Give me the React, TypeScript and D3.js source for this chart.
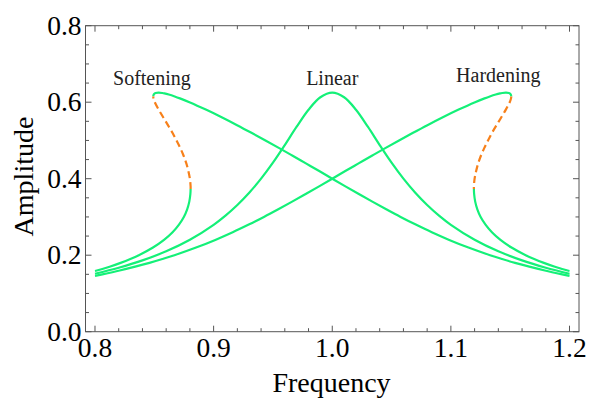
import React from "react";
import * as d3 from "d3";

// Frequency-response curves: [frequency, amplitude] pairs.
const linearCurve: [number, number][] = [
  [0.8, 0.1516], [0.82, 0.1673], [0.84, 0.1864], [0.86, 0.2102], [0.88, 0.2404],
  [0.9, 0.2795], [0.91, 0.3035], [0.92, 0.3313], [0.93, 0.3633], [0.94, 0.4001],
  [0.95, 0.4419], [0.96, 0.488], [0.97, 0.5359], [0.98, 0.5803], [0.99, 0.6129],
  [1.0, 0.625],
  [1.01, 0.6129], [1.02, 0.5803], [1.03, 0.5359], [1.04, 0.488], [1.05, 0.4419],
  [1.06, 0.4001], [1.07, 0.3633], [1.08, 0.3313], [1.09, 0.3035], [1.1, 0.2795],
  [1.12, 0.2404], [1.14, 0.2102], [1.16, 0.1864], [1.18, 0.1673], [1.2, 0.1516],
];

// Hardening: stable upper branch, unstable middle branch, stable lower branch
const hardeningUpper: [number, number][] = [
  [0.8, 0.146], [0.8062, 0.15], [0.8208, 0.16], [0.8339, 0.17], [0.8459, 0.18],
  [0.8568, 0.19], [0.867, 0.2], [0.8852, 0.22], [0.9014, 0.24], [0.9161, 0.26],
  [0.9296, 0.28], [0.9424, 0.3], [0.9545, 0.32], [0.9662, 0.34], [0.9776, 0.36],
  [0.9889, 0.38], [1.0, 0.4], [1.011, 0.42], [1.0222, 0.44], [1.0334, 0.46],
  [1.0447, 0.48], [1.0563, 0.5], [1.0681, 0.52], [1.0802, 0.54], [1.0928, 0.56],
  [1.1061, 0.58], [1.1204, 0.6], [1.1284, 0.61], [1.1328, 0.615], [1.1378, 0.62],
  [1.1415, 0.623], [1.1432, 0.624], [1.1465, 0.625], [1.1489, 0.624],
  [1.1496, 0.623], [1.1505, 0.62], [1.1509, 0.615],
];
const hardeningUnstable: [number, number][] = [
  [1.1509, 0.615], [1.1507, 0.61], [1.1496, 0.6], [1.1462, 0.58], [1.1424, 0.56],
  [1.1385, 0.54], [1.1347, 0.52], [1.1313, 0.5], [1.1281, 0.48], [1.1253, 0.46],
  [1.123, 0.44], [1.1213, 0.42], [1.12, 0.4], [1.1194, 0.38], [1.1194, 0.373],
];
const hardeningLower: [number, number][] = [
  [1.1194, 0.373], [1.1196, 0.36], [1.1205, 0.34], [1.1223, 0.32], [1.1251, 0.3],
  [1.1292, 0.28], [1.1346, 0.26], [1.1418, 0.24], [1.1511, 0.22], [1.163, 0.2],
  [1.1702, 0.19], [1.1784, 0.18], [1.1877, 0.17], [1.1984, 0.16], [1.2, 0.1588],
];

// Softening: stable lower branch, unstable middle branch, stable upper branch
const softeningLower: [number, number][] = [
  [0.8, 0.1588], [0.8016, 0.16], [0.8123, 0.17], [0.8216, 0.18], [0.8298, 0.19],
  [0.837, 0.2], [0.8489, 0.22], [0.8582, 0.24], [0.8654, 0.26], [0.8708, 0.28],
  [0.8749, 0.3], [0.8777, 0.32], [0.8795, 0.34], [0.8804, 0.36], [0.8806, 0.373],
];
const softeningUnstable: [number, number][] = [
  [0.8806, 0.373], [0.8806, 0.38], [0.88, 0.4], [0.8787, 0.42], [0.877, 0.44],
  [0.8747, 0.46], [0.8719, 0.48], [0.8687, 0.5], [0.8653, 0.52], [0.8615, 0.54],
  [0.8576, 0.56], [0.8538, 0.58], [0.8504, 0.6], [0.8493, 0.61], [0.8491, 0.615],
];
const softeningUpper: [number, number][] = [
  [0.8491, 0.615], [0.8495, 0.62], [0.8504, 0.623], [0.8511, 0.624], [0.8535, 0.625],
  [0.8568, 0.624], [0.8585, 0.623], [0.8622, 0.62], [0.8672, 0.615], [0.8716, 0.61],
  [0.8796, 0.6], [0.8939, 0.58], [0.9072, 0.56], [0.9198, 0.54], [0.9319, 0.52],
  [0.9437, 0.5], [0.9553, 0.48], [0.9666, 0.46], [0.9778, 0.44], [0.989, 0.42],
  [1.0, 0.4], [1.0111, 0.38], [1.0224, 0.36], [1.0338, 0.34], [1.0455, 0.32],
  [1.0576, 0.3], [1.0704, 0.28], [1.0839, 0.26], [1.0986, 0.24], [1.1148, 0.22],
  [1.133, 0.2], [1.1432, 0.19], [1.1541, 0.18], [1.1661, 0.17], [1.1792, 0.16],
  [1.1938, 0.15], [1.2, 0.146],
];

const xTicks = [0.8, 0.9, 1.0, 1.1, 1.2];
const yTicks = [0.0, 0.2, 0.4, 0.6, 0.8];

const curveLabels: { text: string; x: number; y: number }[] = [
  { text: "Softening", x: 0.848, y: 0.645 },
  { text: "Linear", x: 1.0, y: 0.645 },
  { text: "Hardening", x: 1.14, y: 0.653 },
];

const W = 589;
const H = 399;
const left = 85.5;
const right = 579;
const top = 25.7;
const bottom = 331.7;

const GREEN = "#14F078";
const ORANGE = "#F7801A";
const FRAME = "#555";
const FONT = "'Liberation Serif', 'Times New Roman', serif";

export default function App() {
  const x = d3.scaleLinear().domain([0.792, 1.208]).range([left, right]);
  const y = d3.scaleLinear().domain([0, 0.8]).range([bottom, top]);

  const line = d3
    .line<[number, number]>()
    .x((d) => x(d[0]))
    .y((d) => y(d[1]))
    .curve(d3.curveCatmullRom.alpha(0.5));

  const xMinor = d3.range(0.8, 1.2001, 0.02).filter(
    (v) => !xTicks.some((t) => Math.abs(t - v) < 1e-6)
  );
  const yMinor = d3.range(0.05, 0.8, 0.05).filter(
    (v) => !yTicks.some((t) => Math.abs(t - v) < 1e-6)
  );
  const major = 6;
  const minor = 3.5;

  const solid = [linearCurve, hardeningUpper, hardeningLower, softeningLower, softeningUpper];
  const dashed = [hardeningUnstable, softeningUnstable];

  return (
    <svg
      width={W}
      height={H}
      style={{ position: "absolute", left: 0, top: 0, background: "#fff" }}
      fontFamily={FONT}
    >
      <defs>
        <clipPath id="plot-area">
          <rect x={left} y={top} width={right - left} height={bottom - top} />
        </clipPath>
      </defs>

      {/* ticks on all four sides, pointing inward */}
      <g stroke={FRAME} strokeWidth={1}>
        {xTicks.map((t) => (
          <g key={`xm${t}`}>
            <line x1={x(t)} x2={x(t)} y1={bottom} y2={bottom - major} />
            <line x1={x(t)} x2={x(t)} y1={top} y2={top + major} />
          </g>
        ))}
        {xMinor.map((t) => (
          <g key={`xn${t}`}>
            <line x1={x(t)} x2={x(t)} y1={bottom} y2={bottom - minor} />
            <line x1={x(t)} x2={x(t)} y1={top} y2={top + minor} />
          </g>
        ))}
        {yTicks.map((t) => (
          <g key={`ym${t}`}>
            <line x1={left} x2={left + major} y1={y(t)} y2={y(t)} />
            <line x1={right} x2={right - major} y1={y(t)} y2={y(t)} />
          </g>
        ))}
        {yMinor.map((t) => (
          <g key={`yn${t}`}>
            <line x1={left} x2={left + minor} y1={y(t)} y2={y(t)} />
            <line x1={right} x2={right - minor} y1={y(t)} y2={y(t)} />
          </g>
        ))}
      </g>

      <g clipPath="url(#plot-area)" fill="none" strokeLinecap="butt" strokeLinejoin="round">
        {solid.map((c, i) => (
          <path key={`s${i}`} d={line(c) ?? ""} stroke={GREEN} strokeWidth={2.2} />
        ))}
        {dashed.map((c, i) => (
          <path
            key={`d${i}`}
            d={line(c) ?? ""}
            stroke={ORANGE}
            strokeWidth={2.2}
            strokeDasharray="7,4"
          />
        ))}
      </g>

      <rect
        x={left}
        y={top}
        width={right - left}
        height={bottom - top}
        fill="none"
        stroke={FRAME}
        strokeWidth={1}
      />

      {/* tick labels */}
      <g fontSize={27.5} fill="#000">
        {xTicks.map((t) => (
          <text key={`xl${t}`} x={x(t)} y={bottom + 25} textAnchor="middle">
            {t.toFixed(1)}
          </text>
        ))}
        {yTicks.map((t) => (
          <text key={`yl${t}`} x={left - 4} y={y(t) + 9} textAnchor="end">
            {t.toFixed(1)}
          </text>
        ))}
      </g>

      {/* axis titles */}
      <text x={331.5} y={392} fontSize={28} textAnchor="middle" fill="#000">
        Frequency
      </text>
      <text
        transform={`translate(33,176.5) rotate(-90)`}
        fontSize={28}
        textAnchor="middle"
        fill="#000"
      >
        Amplitude
      </text>

      {/* curve annotations */}
      <g fontSize={20} fill="#222" textAnchor="middle">
        {curveLabels.map((l) => (
          <text key={l.text} x={x(l.x)} y={y(l.y)}>
            {l.text}
          </text>
        ))}
      </g>
    </svg>
  );
}
